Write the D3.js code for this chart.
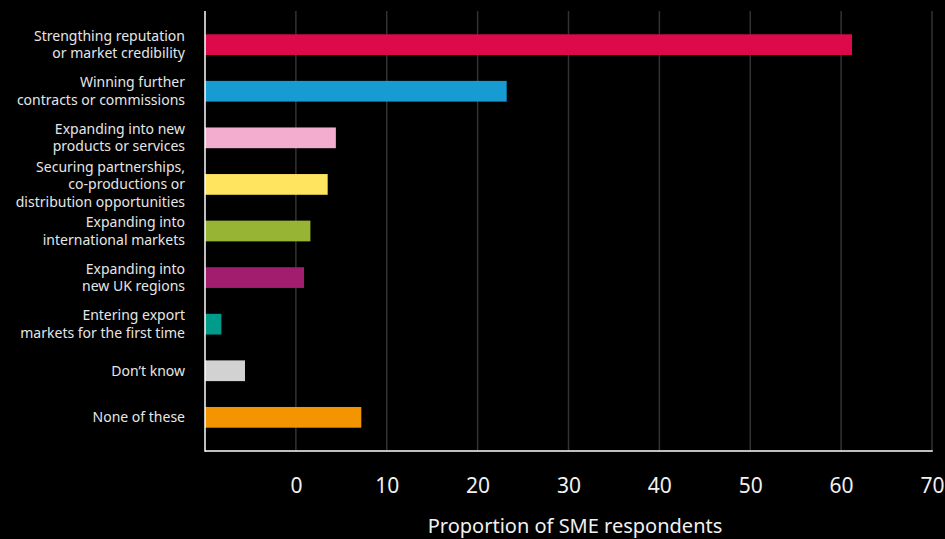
<!DOCTYPE html>
<html>
<head>
<meta charset="utf-8">
<script src="https://cdn.jsdelivr.net/npm/d3@7/dist/d3.min.js"></script>
<style>
  html, body { margin: 0; padding: 0; background: #000; }
  svg { display: block; }
  text { font-family: "Noto Sans", "Open Sans", sans-serif; }
</style>
</head>
<body>
<svg id="chart" width="945" height="539"></svg>
<script>
// Benefits reported by SME respondents (% of respondents)
const categories = [
  ["Strengthing reputation", "or market credibility"],
  ["Winning further", "contracts or commissions"],
  ["Expanding into new", "products or services"],
  ["Securing partnerships,", "co-productions or", "distribution opportunities"],
  ["Expanding into", "international markets"],
  ["Expanding into", "new UK regions"],
  ["Entering export", "markets for the first time"],
  ["Don\u2019t know"],
  ["None of these"]
];
const values = [71.2, 33.2, 14.4, 13.5, 11.6, 10.9, 1.8, 4.4, 17.2];
const colors = ["#dc0a4b", "#169bd3", "#f3aecf", "#fee45f", "#97b434", "#a21d6e", "#009b8a", "#d2d2d2", "#f29500"];
const tickValues = [10, 20, 30, 40, 50, 60, 70, 80];
const tickLabels = ["0", "10", "20", "30", "40", "50", "60", "70"];
const axisTitle = "Proportion of SME respondents";

const svg = d3.select("#chart");
const margin = { top: 11, right: 13, bottom: 88, left: 205 };
const width = 945 - margin.left - margin.right;
const height = 539 - margin.top - margin.bottom;

const x = d3.scaleLinear().domain([0, 80]).range([0, width]);
const y = d3.scaleBand()
  .domain(d3.range(categories.length))
  .range([0, height])
  .paddingInner(0.555)
  .paddingOuter(0.5);

const g = svg.append("g").attr("transform", `translate(${margin.left},${margin.top})`);

// vertical gridlines
g.append("g")
  .selectAll("line")
  .data(tickValues)
  .join("line")
  .attr("x1", d => x(d)).attr("x2", d => x(d))
  .attr("y1", 0).attr("y2", height)
  .attr("stroke", "#333")
  .attr("stroke-width", 1.5);

// bars
g.append("g")
  .selectAll("rect")
  .data(values)
  .join("rect")
  .attr("x", x(0))
  .attr("y", (d, i) => y(i))
  .attr("width", d => x(d) - x(0))
  .attr("height", y.bandwidth())
  .attr("fill", (d, i) => colors[i]);

// axis lines
g.append("line")
  .attr("x1", 0).attr("x2", 0).attr("y1", 0).attr("y2", height + 0.75)
  .attr("stroke", "#fff").attr("stroke-width", 1.5);
g.append("line")
  .attr("x1", 0).attr("x2", x(80) + 0.75).attr("y1", height).attr("y2", height)
  .attr("stroke", "#fff").attr("stroke-width", 1.5);

// bottom axis tick labels
const xAxis = d3.axisBottom(x)
  .tickValues(tickValues)
  .tickFormat((d, i) => tickLabels[i])
  .tickSize(0);
const ax = g.append("g").attr("transform", `translate(0,${height})`).call(xAxis);
ax.select(".domain").remove();
ax.selectAll("text")
  .attr("y", 42)
  .attr("dy", 0)
  .attr("fill", "#f0f0f0")
  .style("font-size", "21px");

// category labels
const lineH = 17.5;
const labels = g.append("g")
  .selectAll("text")
  .data(categories)
  .join("text")
  .attr("text-anchor", "end")
  .attr("fill", "#e6e6e6")
  .style("font-size", "14px")
  .attr("transform", (d, i) => `translate(-20,${y(i) + y.bandwidth() / 2})`);
labels.selectAll("tspan")
  .data(d => d.map((t, k) => ({ t, k, n: d.length })))
  .join("tspan")
  .attr("x", 0)
  .attr("y", d => (d.k - (d.n - 1) / 2) * lineH)
  .attr("dy", "0.35em")
  .text(d => d.t);

// axis title, centred under the plot and the right margin
svg.append("text")
  .attr("x", (margin.left + 945) / 2)
  .attr("y", 533)
  .attr("text-anchor", "middle")
  .attr("fill", "#f0f0f0")
  .style("font-size", "20px")
  .text(axisTitle);
</script>
</body>
</html>
